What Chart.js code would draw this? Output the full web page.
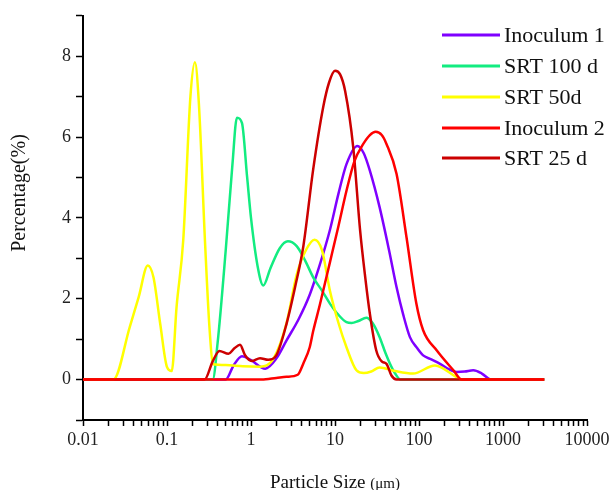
<!DOCTYPE html>
<html>
<head>
<meta charset="utf-8">
<script src="https://cdn.jsdelivr.net/npm/chart.js@4"></script>
<style>
  body { margin: 0; background: #fff; }
  canvas { display: block; }
</style>
</head>
<body>
<canvas id="chart" width="614" height="490"></canvas>
<script>
// series names, in legend order
const seriesNames = ['Inoculum 1', 'SRT 100 d', 'SRT 50d', 'Inoculum 2', 'SRT 25 d'];
const seriesColors = ['#7F00FF', '#12EC80', '#FFFF00', '#FF0000', '#CC0000'];

// Inoculum 1
const inoc1Size = [0.01, 0.5, 0.62, 0.78, 1.0, 1.48, 2.0, 2.65, 3.7, 5.0, 6.5, 8.7, 11, 13.7, 18.5, 22, 26, 34, 44, 54, 65, 78, 95, 112, 140, 178, 230, 281, 350, 443, 560, 720, 3100];
const inoc1Pct = [0, 0, 0.35, 0.58, 0.48, 0.27, 0.52, 0.97, 1.5, 2.1, 2.8, 3.7, 4.6, 5.33, 5.78, 5.6, 5.17, 4.26, 3.2, 2.29, 1.6, 1.05, 0.78, 0.6, 0.5, 0.39, 0.25, 0.19, 0.2, 0.23, 0.15, 0, 0];

// SRT 100 d
const srt100Size = [0.01, 0.35, 0.4, 0.5, 0.6, 0.68, 0.78, 0.9, 1.0, 1.2, 1.4, 1.7, 2.2, 2.75, 3.5, 4.4, 5.5, 7, 8.7, 11, 13.7, 15.8, 19, 23.6, 28, 34, 40, 45, 52, 60, 3100];
const srt100Pct = [0, 0, 0.9, 3.2, 5.3, 6.48, 6.35, 5.0, 4.0, 2.8, 2.33, 2.75, 3.25, 3.42, 3.3, 2.95, 2.53, 2.2, 1.88, 1.6, 1.42, 1.4, 1.45, 1.53, 1.4, 1.05, 0.65, 0.4, 0.15, 0, 0];

// SRT 50d
const srt50Size = [0.01, 0.023, 0.036, 0.046, 0.059, 0.069, 0.083, 0.1, 0.114, 0.13, 0.156, 0.19, 0.215, 0.24, 0.283, 0.32, 0.355, 0.5, 0.8, 1.28, 1.85, 2.65, 3.5, 4.5, 5.7, 7, 8.7, 11, 13.7, 18, 22, 27, 34, 50, 85, 155, 280, 320, 3100];
const srt50Pct = [0, 0, 1.3, 2.04, 2.82, 2.53, 1.38, 0.31, 0.21, 1.8, 3.44, 7.0, 7.85, 6.8, 3.44, 1.3, 0.38, 0.36, 0.33, 0.32, 0.52, 1.4, 2.6, 3.2, 3.46, 3.2, 2.2, 1.4, 0.8, 0.23, 0.16, 0.2, 0.3, 0.22, 0.15, 0.35, 0.06, 0, 0];

// Inoculum 2
const inoc2Size = [0.01, 1.34, 2.0, 2.65, 3.6, 4.2, 5.0, 5.5, 6.6, 8.7, 11, 13.7, 17, 21.7, 26, 30.5, 36, 41, 54, 71, 93, 112, 163, 257, 322, 3100];
const inoc2Pct = [0, 0, 0.04, 0.07, 0.12, 0.4, 0.8, 1.2, 1.85, 2.9, 3.8, 4.67, 5.4, 5.83, 6.05, 6.13, 6.05, 5.83, 5.09, 3.52, 1.88, 1.22, 0.72, 0.23, 0, 0];

// SRT 25 d
const srt25Size = [0.01, 0.28, 0.35, 0.42, 0.54, 0.64, 0.74, 0.85, 1.02, 1.28, 1.6, 2.0, 2.65, 3.4, 4.2, 5.5, 7.25, 8.5, 10, 11.5, 13.2, 16.5, 19.9, 23, 26, 31, 36, 41, 47, 54, 3100];
const srt25Pct = [0, 0, 0.45, 0.71, 0.64, 0.78, 0.86, 0.6, 0.46, 0.53, 0.49, 0.6, 1.38, 2.35, 3.3, 5.2, 6.75, 7.35, 7.64, 7.55, 7.14, 5.74, 3.69, 2.5, 1.63, 0.72, 0.45, 0.39, 0.1, 0, 0];

// axis ticks
const xTickLabels = [0.01, 0.1, 1, 10, 100, 1000, 10000];
const yTickLabels = [0, 2, 4, 6, 8];

const sizes = [inoc1Size, srt100Size, srt50Size, inoc2Size, srt25Size];
const pcts = [inoc1Pct, srt100Pct, srt50Pct, inoc2Pct, srt25Pct];
// draw order: lower goes on top
const drawOrder = [4, 3, 2, 0, 1];

const FONT = '"Liberation Serif", "DejaVu Serif", serif';

const datasets = seriesNames.map((name, i) => ({
  label: name,
  data: sizes[i].map((s, j) => ({ x: s, y: pcts[i][j] })),
  borderColor: seriesColors[i],
  backgroundColor: seriesColors[i],
  borderWidth: 2.5,
  pointRadius: 0,
  cubicInterpolationMode: 'monotone',
  fill: false,
  order: drawOrder[i]
}));

// minor log ticks between the labelled decades
function buildXTicks() {
  const ticks = [];
  for (let d = 0; d < xTickLabels.length; d++) {
    const base = xTickLabels[d];
    ticks.push({ value: base, major: true });
    if (d < xTickLabels.length - 1) {
      for (let m = 2; m <= 9; m++) ticks.push({ value: +(base * m).toPrecision(3) });
    }
  }
  return ticks;
}

const textPlugin = {
  id: 'textPlugin',
  afterDraw(chart) {
    const ctx = chart.ctx;
    ctx.save();
    ctx.fillStyle = '#111';

    // x title with smaller unit part
    const main = 'Particle Size ';
    const unit = '(μm)';
    ctx.font = '19px ' + FONT;
    const w1 = ctx.measureText(main).width;
    ctx.font = '15px ' + FONT;
    const w2 = ctx.measureText(unit).width;
    const cx = (chart.chartArea.left + chart.chartArea.right) / 2;
    let x0 = cx - (w1 + w2) / 2;
    ctx.textBaseline = 'alphabetic';
    ctx.textAlign = 'left';
    ctx.font = '19px ' + FONT;
    ctx.fillText(main, x0, 488);
    ctx.font = '15px ' + FONT;
    ctx.fillText(unit, x0 + w1, 488);

    // y title
    ctx.save();
    ctx.translate(20, 193);
    ctx.rotate(-Math.PI / 2);
    ctx.font = '20px ' + FONT;
    ctx.textAlign = 'center';
    ctx.textBaseline = 'middle';
    ctx.fillText('Percentage(%)', 0, 0);
    ctx.restore();

    // legend
    const rowY = [35, 66, 97, 128, 158];
    chart.data.datasets.forEach((ds, i) => {
      const y = rowY[i];
      ctx.strokeStyle = ds.borderColor;
      ctx.lineWidth = 3;
      ctx.beginPath();
      ctx.moveTo(442, y);
      ctx.lineTo(500, y);
      ctx.stroke();
      ctx.font = '22px ' + FONT;
      ctx.textAlign = 'left';
      ctx.textBaseline = 'middle';
      ctx.fillStyle = '#111';
      ctx.fillText(ds.label, 504, y + 1);
    });
    ctx.restore();
  }
};

const ctx = document.getElementById('chart').getContext('2d');
const chart = new Chart(ctx, {
  type: 'line',
  data: { datasets: datasets },
  options: {
    responsive: false,
    animation: false,
    devicePixelRatio: 1,
    layout: { padding: { top: 15, right: 27, left: 0, bottom: 0 } },
    plugins: {
      legend: { display: false },
      tooltip: { enabled: false }
    },
    scales: {
      x: {
        type: 'logarithmic',
        position: 'bottom',
        min: 0.01,
        max: 10000,
        afterBuildTicks: (scale) => { scale.ticks = buildXTicks(); },
        afterFit: (scale) => { scale.height = 70; },
        border: { display: true, color: '#000', width: 2 },
        grid: { drawOnChartArea: false, color: '#000', tickColor: '#000', tickLength: 6, tickWidth: 1.5 },
        ticks: {
          autoSkip: false,
          maxRotation: 0,
          padding: 3,
          color: '#222',
          font: { family: FONT, size: 18 },
          callback: (v) => xTickLabels.includes(v) ? String(v) : ''
        }
      },
      y: {
        type: 'linear',
        min: -1,
        max: 9,
        afterFit: (scale) => { scale.width = 83; },
        border: { display: true, color: '#000', width: 2 },
        grid: { drawOnChartArea: false, color: '#000', tickColor: '#000', tickLength: 7, tickWidth: 1.5 },
        ticks: {
          stepSize: 1,
          autoSkip: false,
          padding: 5,
          color: '#222',
          font: { family: FONT, size: 18 },
          callback: (v) => yTickLabels.includes(v) ? String(v) : ''
        }
      }
    }
  },
  plugins: [textPlugin]
});
</script>
</body>
</html>
